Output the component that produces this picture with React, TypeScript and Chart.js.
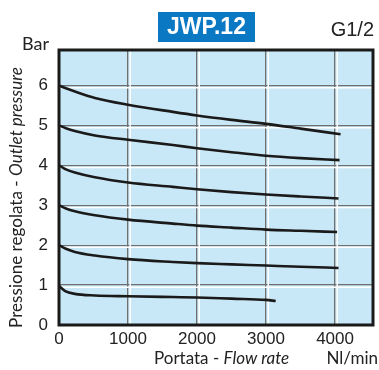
import React, { useEffect, useRef } from "react";
import { Chart, registerables } from "chart.js";

Chart.register(...registerables);

// ---- data ----
const xTicks = [0, 1000, 2000, 3000, 4000];
const yTicks = [0, 1, 2, 3, 4, 5, 6];

const flow6 = [0, 100, 230, 520, 1000, 1650, 2000, 2500, 3000, 3500, 4080];
const p6 = [6.0, 5.93, 5.85, 5.69, 5.52, 5.34, 5.25, 5.14, 5.04, 4.92, 4.78];

const flow5 = [0, 100, 230, 520, 1000, 1650, 2000, 2500, 3000, 3500, 4065];
const p5 = [5.0, 4.93, 4.86, 4.75, 4.64, 4.51, 4.43, 4.33, 4.24, 4.18, 4.13];

const flow4 = [0, 100, 230, 520, 1000, 1650, 2000, 2500, 3000, 3500, 4050];
const p4 = [4.0, 3.9, 3.82, 3.7, 3.57, 3.46, 3.4, 3.33, 3.27, 3.22, 3.17];

const flow3 = [0, 100, 230, 520, 1000, 1650, 2000, 2500, 3000, 3500, 4030];
const p3 = [3.0, 2.92, 2.85, 2.75, 2.64, 2.54, 2.49, 2.44, 2.39, 2.36, 2.33];

const flow2 = [0, 100, 230, 520, 1000, 1650, 2000, 2500, 3000, 3500, 4050];
const p2 = [2.0, 1.91, 1.83, 1.74, 1.65, 1.58, 1.55, 1.52, 1.49, 1.46, 1.43];

const flow1 = [0, 90, 230, 520, 1000, 1650, 2000, 2500, 3000, 3140];
const p1 = [0.98, 0.85, 0.78, 0.74, 0.72, 0.7, 0.69, 0.66, 0.63, 0.6];

const series = [
  { flow: flow6, p: p6 },
  { flow: flow5, p: p5 },
  { flow: flow4, p: p4 },
  { flow: flow3, p: p3 },
  { flow: flow2, p: p2 },
  { flow: flow1, p: p1 },
];

const X_MAX = 4550;
const Y_MAX = 6.89;

const LABEL_FONT = "Lato, 'Open Sans', sans-serif";
const TICK_FONT = "'Liberation Sans', Arial, sans-serif";
const TEXT_COLOR = "#222222";

const decorPlugin = {
  id: "decor",
  beforeDraw(chart: any) {
    const { ctx, chartArea } = chart;
    ctx.save();
    ctx.fillStyle = "#ffffff";
    ctx.fillRect(0, 0, chart.width, chart.height);
    ctx.fillStyle = "#c9e8f7";
    ctx.fillRect(chartArea.left, chartArea.top, chartArea.right - chartArea.left, chartArea.bottom - chartArea.top);
    ctx.restore();
  },
  beforeDatasetsDraw(chart: any) {
    const { ctx, chartArea, scales } = chart;
    ctx.save();
    ctx.strokeStyle = "#ffffff";
    ctx.lineWidth = 1.5;
    xTicks.forEach((v) => {
      if (v === 0) return;
      const px = scales.x.getPixelForValue(v) + 2.2;
      ctx.beginPath();
      ctx.moveTo(px, chartArea.top);
      ctx.lineTo(px, chartArea.bottom);
      ctx.stroke();
    });
    yTicks.forEach((v) => {
      if (v === 0) return;
      const py = scales.y.getPixelForValue(v) + 2.2;
      ctx.beginPath();
      ctx.moveTo(chartArea.left, py);
      ctx.lineTo(chartArea.right, py);
      ctx.stroke();
    });
    ctx.restore();
  },
  afterDraw(chart: any) {
    const { ctx, chartArea } = chart;
    ctx.save();
    // frame
    ctx.strokeStyle = "#1a1a1a";
    ctx.lineWidth = 3;
    ctx.strokeRect(chartArea.left, chartArea.top, chartArea.right - chartArea.left, chartArea.bottom - chartArea.top);

    // title box
    ctx.fillStyle = "#0a78c2";
    ctx.fillRect(158, 12, 97, 30);
    ctx.fillStyle = "#ffffff";
    ctx.font = `bold 23px ${TICK_FONT}`;
    ctx.textAlign = "center";
    ctx.textBaseline = "middle";
    ctx.fillText("JWP.12", 206.5, 28);

    // G1/2
    ctx.fillStyle = TEXT_COLOR;
    ctx.font = `20px ${TICK_FONT}`;
    ctx.textAlign = "right";
    ctx.textBaseline = "middle";
    ctx.fillText("G1/2", 374, 30);

    // Bar
    ctx.font = `18px ${LABEL_FONT}`;
    ctx.textAlign = "left";
    ctx.fillText("Bar", 22, 44);

    // x title
    ctx.textBaseline = "middle";
    ctx.font = `17px ${LABEL_FONT}`;
    const a = "Portata - ";
    const b = "Flow rate";
    const wa = ctx.measureText(a).width;
    ctx.fillText(a, 154, 359);
    ctx.font = `italic 17px ${LABEL_FONT}`;
    ctx.fillText(b, 154 + wa, 359);

    // Nl/min
    ctx.font = `17px ${LABEL_FONT}`;
    ctx.textAlign = "right";
    ctx.fillText("Nl/min", 378, 359);

    // y title
    const ya = "Pressione regolata - ";
    const yb = "Outlet pressure";
    let fs = 17;
    ctx.font = `${fs}px ${LABEL_FONT}`;
    let w1 = ctx.measureText(ya).width;
    ctx.font = `italic ${fs}px ${LABEL_FONT}`;
    let w2 = ctx.measureText(yb).width;
    const target = 261;
    fs = fs * target / (w1 + w2);
    ctx.font = `${fs}px ${LABEL_FONT}`;
    w1 = ctx.measureText(ya).width;
    ctx.font = `italic ${fs}px ${LABEL_FONT}`;
    w2 = ctx.measureText(yb).width;
    ctx.translate(16, 197.5);
    ctx.rotate(-Math.PI / 2);
    ctx.textAlign = "left";
    ctx.textBaseline = "middle";
    const start = -(w1 + w2) / 2;
    ctx.font = `${fs}px ${LABEL_FONT}`;
    ctx.fillText(ya, start, 0);
    ctx.font = `italic ${fs}px ${LABEL_FONT}`;
    ctx.fillText(yb, start + w1, 0);
    ctx.restore();
  },
};

export default function App() {
  const ref = useRef<HTMLCanvasElement | null>(null);

  useEffect(() => {
    if (!ref.current) return;
    const chart = new Chart(ref.current, {
      type: "line",
      data: {
        datasets: series.map((s) => ({
          data: s.flow.map((f, i) => ({ x: f, y: s.p[i] })),
          borderColor: "#1a1a1a",
          borderWidth: 2.6,
          pointRadius: 0,
          fill: false,
          cubicInterpolationMode: "monotone" as const,
        })),
      },
      options: {
        animation: false,
        responsive: false,
        devicePixelRatio: 1,
        layout: { padding: { top: 50, right: 6, left: 0, bottom: 0 } },
        plugins: { legend: { display: false }, tooltip: { enabled: false } },
        scales: {
          x: {
            type: "linear",
            min: 0,
            max: X_MAX,
            afterBuildTicks: (s: any) => {
              s.ticks = xTicks.map((v) => ({ value: v }));
            },
            afterFit: (s: any) => {
              s.height = 45;
            },
            grid: { color: "#6f6f6f", lineWidth: 1.3, drawTicks: false },
            border: { display: false },
            ticks: {
              font: { family: TICK_FONT, size: 17 },
              color: TEXT_COLOR,
              padding: 4,
              maxRotation: 0,
              callback: (v: any) => String(v),
            },
          },
          y: {
            type: "linear",
            min: 0,
            max: Y_MAX,
            afterBuildTicks: (s: any) => {
              s.ticks = yTicks.map((v) => ({ value: v }));
            },
            afterFit: (s: any) => {
              s.width = 59;
            },
            grid: { color: "#6f6f6f", lineWidth: 1.3, drawTicks: false },
            border: { display: false },
            ticks: {
              font: { family: TICK_FONT, size: 17 },
              color: TEXT_COLOR,
              padding: 11,
              callback: (v: any) => String(v),
            },
          },
        },
      },
      plugins: [decorPlugin],
    });
    return () => chart.destroy();
  }, []);

  return (
    <div style={{ position: "absolute", left: 0, top: 0, width: 379, height: 370 }}>
      <canvas ref={ref} width={379} height={370} style={{ display: "block", width: 379, height: 370 }} />
    </div>
  );
}
